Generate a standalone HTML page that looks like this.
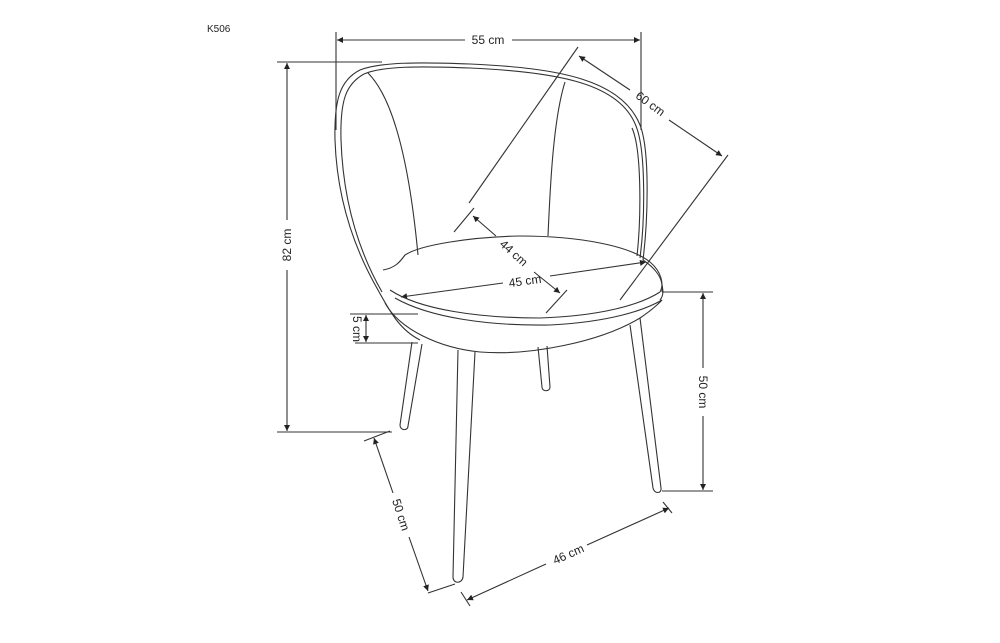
<!DOCTYPE html>
<html><head><meta charset="utf-8"><style>
body{margin:0;background:#fff;}
svg{display:block;}
text{font-family:"Liberation Sans",sans-serif;font-size:12px;fill:#222;}
</style></head><body>
<svg width="1000" height="643" viewBox="0 0 1000 643" xmlns="http://www.w3.org/2000/svg">
<defs>
<marker id="a" viewBox="0 0 10 10" refX="10" refY="5" markerWidth="9" markerHeight="6" orient="auto-start-reverse" markerUnits="userSpaceOnUse"><path d="M0,0 L10,5 L0,10z" fill="#222"/></marker>
</defs>
<text x="207" y="32" style="font-size:10px">K506</text>
<g stroke="#333" stroke-width="1.1" fill="none">
<line x1="336" y1="32" x2="336" y2="130"/>
<line x1="641" y1="32" x2="641" y2="130"/>
<line x1="337" y1="40" x2="465" y2="40" marker-start="url(#a)"/>
<line x1="512" y1="40" x2="640" y2="40" marker-end="url(#a)"/>
<line x1="277" y1="62" x2="382" y2="62"/>
<line x1="277" y1="432" x2="392" y2="432"/>
<line x1="287" y1="63" x2="287" y2="220" marker-start="url(#a)"/>
<line x1="287" y1="270" x2="287" y2="431" marker-end="url(#a)"/>
<line x1="578" y1="47" x2="469" y2="203"/>
<line x1="728" y1="155" x2="620" y2="300"/>
<line x1="579" y1="56" x2="630" y2="90" marker-start="url(#a)"/>
<line x1="669" y1="120" x2="722" y2="156" marker-end="url(#a)"/>
<line x1="474" y1="208" x2="454" y2="232"/>
<line x1="567" y1="290" x2="546" y2="313"/>
<line x1="473" y1="216" x2="496" y2="236" marker-start="url(#a)"/>
<line x1="534" y1="272" x2="560" y2="293" marker-end="url(#a)"/>
<line x1="401" y1="297" x2="503" y2="283" marker-start="url(#a)"/>
<line x1="550" y1="276" x2="646" y2="262" marker-end="url(#a)"/>
<line x1="350" y1="314" x2="418" y2="314"/>
<line x1="355" y1="343" x2="418" y2="343"/>
<line x1="366" y1="315" x2="366" y2="342" marker-start="url(#a)" marker-end="url(#a)"/>
<line x1="662" y1="292" x2="713" y2="292"/>
<line x1="662" y1="491" x2="713" y2="491"/>
<line x1="703" y1="293" x2="703" y2="368" marker-start="url(#a)"/>
<line x1="703" y1="416" x2="703" y2="490" marker-end="url(#a)"/>
<line x1="364" y1="441" x2="390" y2="431"/>
<line x1="428" y1="593" x2="455" y2="584"/>
<line x1="374" y1="438" x2="393" y2="493" marker-start="url(#a)"/>
<line x1="409" y1="537" x2="428" y2="591" marker-end="url(#a)"/>
<line x1="461" y1="592" x2="470" y2="606"/>
<line x1="663" y1="502" x2="672" y2="513"/>
<line x1="467" y1="600" x2="546" y2="564" marker-start="url(#a)"/>
<line x1="587" y1="545" x2="669" y2="508" marker-end="url(#a)"/>

<path d="M662,292 C664,278 655,268 643,260 C648,220 650,150 640,125 C622,80 560,68 470,64 C420,62 380,62 360,70 C340,80 334,100 335,140 C337,200 355,250 378,290 C390,312 400,330 420,340"/>
<path d="M660,300 C664,295 663,290 662,285"/>
<path d="M640,258 C645,220 646,150 636,126 C620,84 560,72 470,68 C420,66 382,66 364,74 C346,84 340,100 341,140 C343,200 358,250 382,292"/>
<path d="M637,256 C641,220 642,150 632,128"/>
<path d="M368,73 C395,100 410,170 418,255"/>
<path d="M565,82 C553,120 550,190 548,236"/>
<path d="M383,270 C395,268 400,262 405,255 C420,245 470,237 520,236 C580,236 630,246 650,262 C662,272 664,285 660,292"/>
<path d="M390,290 C420,310 480,318 540,318 C600,316 640,305 660,292"/>
<path d="M395,298 C430,318 490,326 550,325 C610,322 645,310 662,300"/>
<path d="M385,303 C400,330 440,348 480,352 C530,356 600,342 640,318 C655,308 662,300 662,300"/>
<path d="M412,342 L400,425 C400,431 408,431 408,426 L422,344"/>
<path d="M458,350 L453,577 C453,584 462,584 463,577 L475,352"/>
<path d="M538,347 L542,387 C542,392 550,392 550,387 L547,346"/>
<path d="M630,325 L653,488 C654,494 662,494 661,488 L640,318"/>
</g>
<g>
<text x="488" y="44" text-anchor="middle">55 cm</text>
<text transform="translate(291,245) rotate(-90)" text-anchor="middle">82 cm</text>
<text transform="translate(648,107) rotate(36)" text-anchor="middle">60 cm</text>
<text transform="translate(511,256) rotate(42)" text-anchor="middle">44 cm</text>
<text x="525" y="285" transform="rotate(-8 525 281)" text-anchor="middle">45 cm</text>
<text transform="translate(353,329) rotate(90)" text-anchor="middle">5 cm</text>
<text transform="translate(699,392) rotate(90)" text-anchor="middle">50 cm</text>
<text transform="translate(397,516) rotate(72)" text-anchor="middle">50 cm</text>
<text transform="translate(570,558) rotate(-24)" text-anchor="middle">46 cm</text>
</g>
</svg>
</body></html>
